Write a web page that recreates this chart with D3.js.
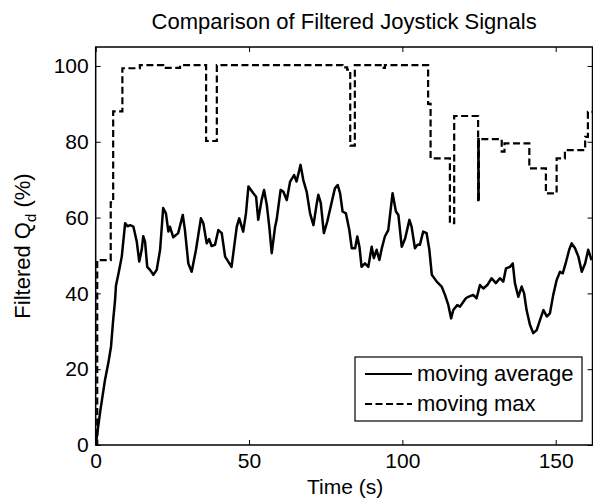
<!DOCTYPE html>
<html>
<head>
<meta charset="utf-8">
<script src="https://cdn.jsdelivr.net/npm/d3@7"></script>
<style>
  html, body { margin: 0; padding: 0; background: #fff; }
  svg { display: block; }
  text { font-family: "Liberation Sans", Arial, Helvetica, sans-serif; fill: #000; }
</style>
</head>
<body>
<script>
// Moving average of the joystick command (time in s, value in %)
const avgTime = [0, 1.5, 3.0, 4.2, 5.0, 5.7, 6.3, 6.6, 7.5, 8.5, 9.6, 10.4, 11.2, 12.3, 13.4, 14.2, 15.0, 15.5, 16.1, 16.8,
  17.7, 18.8, 19.9, 21.0, 22.0, 22.9, 23.7, 24.2, 25.3, 26.9, 28.4, 29.1, 30.2, 31.3, 32.7, 34.3, 35.1, 36.2, 37.0, 37.8,
  38.9, 40.0, 41.1, 42.2, 44.3, 46.0, 46.8, 48.1, 49.0, 49.8, 51.4, 52.3, 53.0, 54.1, 54.9, 55.8, 56.6, 57.4, 58.5, 59.0,
  60.3, 61.2, 62.3, 63.4, 64.7, 65.5, 66.8, 67.7, 68.8, 69.9, 71.0, 72.1, 72.6, 73.4, 74.4, 75.5, 77.0, 78.0, 78.9, 79.7,
  80.5, 81.6, 82.7, 83.5, 84.6, 85.3, 86.0, 86.7, 87.8, 88.9, 90.0, 90.7, 91.6, 92.5, 93.3, 94.3, 95.4, 96.8, 97.9, 98.7,
  99.8, 100.9, 102.3, 103.0, 104.1, 104.9, 105.7, 106.8, 107.9, 108.8, 109.6, 111.2, 112.8, 113.9, 115.0, 115.9, 116.6, 117.9, 118.8, 119.9,
  120.7, 121.5, 123.1, 124.2, 125.3, 126.4, 127.7, 129.1, 130.5, 131.8, 132.9, 133.8, 135.1, 136.0, 136.7, 137.8, 138.9, 139.7, 140.5, 141.6,
  142.7, 143.8, 144.9, 146.0, 147.1, 148.1, 149.2, 150.3, 151.4, 152.3, 153.4, 154.4, 155.2, 156.3, 157.4, 158.5, 159.6, 160.6, 161.7];
const avgValue = [0, 9, 17, 22, 26, 33, 38, 42, 45.5, 49.7, 58.5, 57.7, 58, 57.6, 53.6, 48.4, 51.5, 55.1, 53.6, 47,
  46.2, 44.9, 46.2, 51.5, 62.5, 61.1, 56.3, 57.6, 54.8, 55.9, 60.7, 56.7, 47.9, 45.7, 51.5, 59.8, 58.5, 53.2, 54.3, 52.5,
  52.8, 56.7, 55.9, 49.7, 47, 57.6, 59.8, 56.3, 61.1, 68.2, 66.4, 65.5, 59.4, 64.6, 67.3, 63.3, 57.6, 50.6, 57.6, 59.4,
  67.3, 66.8, 64.6, 69.5, 71.2, 69.5, 73.9, 69.9, 66.8, 61.1, 58, 63.8, 66, 63.8, 55.9, 58.9, 64.2, 67.7, 68.6, 66.4,
  61.6, 61.1, 56.7, 51.9, 51.9, 55, 52.3, 47, 47.9, 47, 52.3, 49.3, 51.5, 48.8, 51.9, 55, 56.7, 66.4, 61.6, 60.7,
  52.3, 54.5, 59.4, 57.6, 51.9, 52.8, 52.8, 56.3, 55.9, 51.5, 44.9, 43.1, 41.8, 39.6, 36.9, 33.4, 35.6, 36.9, 36.5, 37.8,
  38.7, 39.1, 39.6, 38.7, 42.2, 41.3, 42.2, 44, 42.7, 44, 43.1, 46.6, 47, 47.9, 42.7, 39.1, 41.8, 40, 35.6, 31.7,
  29.5, 30.3, 33, 35.6, 33.9, 34.7, 39.6, 43.5, 45.7, 45.3, 48.4, 51.5, 53.2, 51.9, 49.7, 45.7, 47.9, 51.5, 48.8];

// Moving max: each level holds from its start time until the next one
const maxTime = [0, 0.5, 4.9, 5.7, 8.7, 14.4, 22.0, 27.5, 36.0, 39.5, 80.5, 82.0, 83.0, 84.5, 93.3, 94.3,
  108.4, 109.2, 115.5, 116.9, 124.7, 124.75, 124.8, 124.85, 124.9, 124.95, 132.4, 133.3, 141.4, 146.8, 150.3, 153.0, 159.6, 160.5, 162];
const maxValue = [0, 48.8, 64, 88, 99.4, 100.2, 99.5, 100.2, 80.2, 100.2, 99.6, 99.0, 79.0, 100.2, 99.5, 100.2,
  90.0, 75.6, 58.5, 86.8, 64.6, 80.7, 64.6, 80.7, 64.6, 80.7, 77.4, 79.6, 73.0, 66.4, 75.6, 77.8, 81.3, 87.9, 87.9];

const xTicks = [0, 50, 100, 150];
const yTicks = [0, 20, 40, 60, 80, 100];
const legendLabels = ["moving average", "moving max"];

const W = 593, H = 498;
const margin = { top: 47, right: 0.5, bottom: 53, left: 95.7 };
const iw = W - margin.left - margin.right;
const ih = H - margin.top - margin.bottom;
const FS = 21;
const DASH = "7,3.5";

const svg = d3.select("body").append("svg").attr("width", W).attr("height", H);
const g = svg.append("g").attr("transform", `translate(${margin.left},${margin.top})`);

const x = d3.scaleLinear().domain([0, 162]).range([0, iw]);
const y = d3.scaleLinear().domain([0, 105]).range([ih, 0]);

g.append("clipPath").attr("id", "plot-clip")
  .append("rect").attr("x", 0).attr("y", 0).attr("width", iw).attr("height", ih);

// series
const avgData = avgTime.map((t, i) => [t, avgValue[i]]);
const maxData = maxTime.map((t, i) => [t, maxValue[i]]);

const lineLinear = d3.line().x(d => x(d[0])).y(d => y(d[1]));
const lineStep = d3.line().x(d => x(d[0])).y(d => y(d[1])).curve(d3.curveStepAfter);

const plot = g.append("g").attr("clip-path", "url(#plot-clip)");
plot.append("path").datum(maxData)
  .attr("d", lineStep).attr("fill", "none").attr("stroke", "#000")
  .attr("stroke-width", 2.2).attr("stroke-dasharray", DASH);
plot.append("path").datum(avgData)
  .attr("d", lineLinear).attr("fill", "none").attr("stroke", "#000")
  .attr("stroke-width", 2.5).attr("stroke-linejoin", "round");

// axes with inward ticks on all four sides
function styleAxis(sel) {
  sel.select(".domain").remove();
  sel.selectAll(".tick line").attr("stroke", "#000").attr("stroke-width", 1);
  sel.selectAll(".tick text").attr("font-size", FS).attr("fill", "#000");
}
g.append("g").attr("transform", `translate(0,${ih})`)
  .call(d3.axisBottom(x).tickValues(xTicks).tickSizeInner(-5).tickSizeOuter(0).tickPadding(8).tickFormat(d3.format("d")))
  .call(styleAxis);
g.append("g")
  .call(d3.axisTop(x).tickValues(xTicks).tickSizeInner(-5).tickSizeOuter(0).tickFormat(""))
  .call(styleAxis);
g.append("g")
  .call(d3.axisLeft(y).tickValues(yTicks).tickSizeInner(-5).tickSizeOuter(0).tickPadding(7).tickFormat(d3.format("d")))
  .call(styleAxis);
g.append("g").attr("transform", `translate(${iw},0)`)
  .call(d3.axisRight(y).tickValues(yTicks).tickSizeInner(-5).tickSizeOuter(0).tickFormat(""))
  .call(styleAxis);

// axes box
g.append("rect").attr("x", 0).attr("y", 0).attr("width", iw).attr("height", ih)
  .attr("fill", "none").attr("stroke", "#000").attr("stroke-width", 1.5);

// title and axis labels
svg.append("text").attr("x", margin.left + iw / 2).attr("y", 29)
  .attr("text-anchor", "middle").attr("font-size", 22)
  .text("Comparison of Filtered Joystick Signals");

svg.append("text").attr("x", margin.left + iw / 2 + 1).attr("y", 494)
  .attr("text-anchor", "middle").attr("font-size", 21)
  .text("Time (s)");

const yl = svg.append("text")
  .attr("transform", `translate(30,${margin.top + ih / 2}) rotate(-90)`)
  .attr("text-anchor", "middle").attr("font-size", 22);
yl.append("tspan").text("Filtered Q");
yl.append("tspan").attr("font-size", 15).attr("dy", 6).text("d");
yl.append("tspan").attr("dy", -6).text(" (%)");

// legend
const lg = svg.append("g");
lg.append("rect").attr("x", 355).attr("y", 357).attr("width", 227).attr("height", 64)
  .attr("fill", "#fff").attr("stroke", "#000").attr("stroke-width", 1.2);
const legendDash = [null, DASH];
legendLabels.forEach((lab, i) => {
  const cy = 374 + i * 30;
  lg.append("line").attr("x1", 365).attr("x2", 412).attr("y1", cy).attr("y2", cy)
    .attr("stroke", "#000").attr("stroke-width", 2)
    .attr("stroke-dasharray", legendDash[i]);
  lg.append("text").attr("x", 417).attr("y", cy + 7).attr("font-size", 22).text(lab);
});
</script>
</body>
</html>
